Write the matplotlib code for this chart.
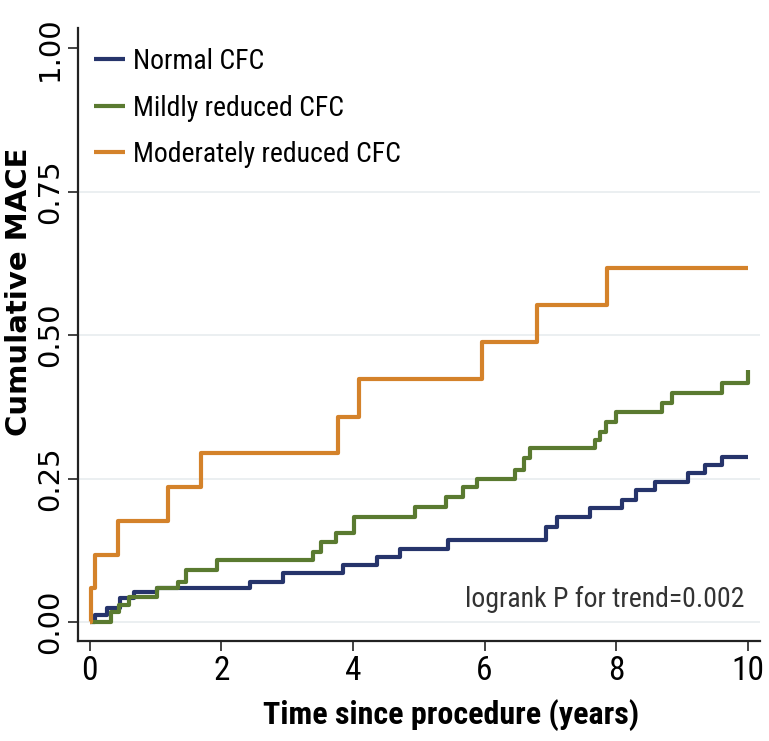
import matplotlib
matplotlib.use("Agg")
import matplotlib.pyplot as plt

NARROW = ["Liberation Sans Narrow", "Roboto Condensed", "Open Sans Condensed", "Liberation Sans", "DejaVu Sans"]
plt.rcParams["font.family"] = NARROW

# Cumulative MACE step curves (time in years, cumulative incidence)
normal_t = [0, 0.08, 0.26, 0.46, 0.68, 1.03, 2.43, 2.94, 3.85, 4.36, 4.71, 5.44,
            6.94, 7.10, 7.60, 8.08, 8.30, 8.59, 9.09, 9.35, 9.60, 10.0]
normal_y = [0, 0.012, 0.024, 0.042, 0.052, 0.059, 0.070, 0.085, 0.099, 0.113, 0.128, 0.143,
            0.166, 0.183, 0.198, 0.213, 0.230, 0.244, 0.260, 0.274, 0.287, 0.287]

mild_t = [0, 0.33, 0.45, 0.60, 1.03, 1.34, 1.47, 1.93, 3.39, 3.52, 3.75, 4.02,
          4.94, 5.42, 5.67, 5.88, 6.46, 6.60, 6.69, 7.67, 7.75, 7.85, 8.00,
          8.69, 8.85, 9.60, 10.0, 10.0]
mild_y = [0, 0.017, 0.030, 0.044, 0.059, 0.070, 0.090, 0.108, 0.122, 0.139, 0.155, 0.183,
          0.200, 0.218, 0.235, 0.250, 0.265, 0.285, 0.303, 0.317, 0.331, 0.348, 0.366,
          0.381, 0.399, 0.416, 0.439, 0.439]

mod_t = [0, 0.03, 0.08, 0.43, 1.19, 1.70, 3.77, 4.10, 5.96, 6.79, 7.86, 10.0]
mod_y = [0, 0.059, 0.117, 0.176, 0.235, 0.294, 0.357, 0.423, 0.488, 0.552, 0.617, 0.617]

series = [
    ("Normal CFC", normal_t, normal_y, "#26346b"),
    ("Mildly reduced CFC", mild_t, mild_y, "#5a7a30"),
    ("Moderately reduced CFC", mod_t, mod_y, "#d4822a"),
]

x_ticks = [0, 2, 4, 6, 8, 10]
y_ticks = [0, 0.25, 0.5, 0.75, 1.0]
y_ticklabels = ["0.00", "0.25", "0.50", "0.75", "1.00"]

fig = plt.figure(figsize=(7.69, 7.41), dpi=100)
ax = fig.add_axes([0.101, 0.135, 0.887, 0.827])

for yv in y_ticks[:-1]:
    ax.axhline(yv, color="#e8ecef", lw=1.2, zorder=0)

for label, t, y, c in series:
    ax.step(t, y, where="post", color=c, lw=3.0, label=label, solid_capstyle="butt")

ax.set_xlim(-0.18, 10.18)
ax.set_ylim(-0.033, 1.035)
ax.set_xticks(x_ticks)
ax.set_xticklabels([str(v) for v in x_ticks], fontsize=24, fontstretch="condensed")
ax.set_yticks(y_ticks)
ax.set_yticklabels(y_ticklabels, fontsize=21, rotation=90, va="center",
                   family=["DejaVu Sans"])
ax.tick_params(axis="both", direction="out", length=7, width=1.2, color="#222222")
ax.tick_params(axis="x", pad=3)
ax.tick_params(axis="y", pad=3)

for side in ["top", "right"]:
    ax.spines[side].set_visible(False)
for side in ["left", "bottom"]:
    ax.spines[side].set_linewidth(1.6)
    ax.spines[side].set_color("#222222")

ax.set_xlabel("Time since procedure (years)", fontsize=23, fontweight="bold",
              fontstretch="condensed")
ax.xaxis.set_label_coords(0.547, -0.095)
ax.set_ylabel("Cumulative MACE", fontsize=21, fontweight="bold",
              family=["DejaVu Sans"])
ax.yaxis.set_label_coords(-0.066, 0.57)

ax.text(9.95, 0.04, "logrank P for trend=0.002", ha="right", va="center",
        fontsize=20, fontstretch="condensed", color="#333333")

leg = ax.legend(loc="upper left", bbox_to_anchor=(0.004, 0.99), frameon=False,
                prop={"size": 20, "stretch": "condensed"},
                handlelength=1.1, handletextpad=0.3, labelspacing=0.7,
                borderaxespad=0.1)
for h in leg.get_lines():
    h.set_linewidth(3.0)

fig.savefig("out.png", dpi=100)
